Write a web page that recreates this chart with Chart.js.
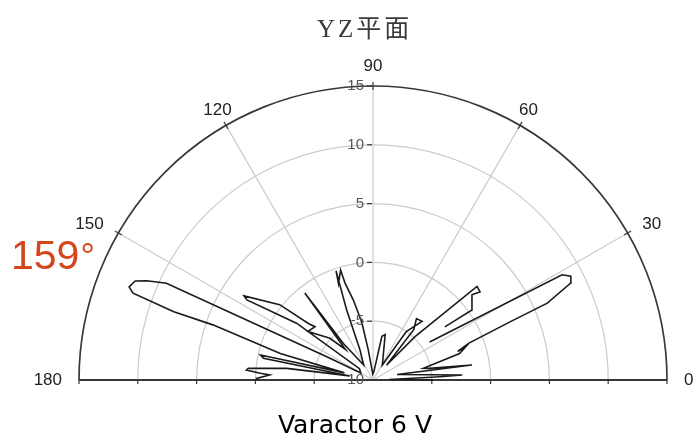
<!DOCTYPE html>
<html>
<head>
<meta charset="utf-8">
<script src="https://cdn.jsdelivr.net/npm/chart.js@4/dist/chart.umd.min.js"></script>
<style>
  html, body { margin: 0; padding: 0; background: #fff; }
  #wrap { position: relative; width: 696px; height: 441px; }
  #title {
    position: absolute; left: 317px; top: 8px;
    font: 25px "Liberation Serif", "Noto Sans CJK SC", serif;
    letter-spacing: 3px; color: #3a3a3a; white-space: nowrap;
  }
  #mark {
    position: absolute; left: 11px; top: 232px;
    font: 41px "Liberation Sans", Arial, sans-serif;
    color: #d4461c; white-space: nowrap;
  }
  #mark span { font-size: 36px; font-weight: 300; margin-left: 1px; }
  #caption {
    position: absolute; left: 0; width: 696px; top: 410px; text-align: center;
    padding-left: 14px; box-sizing: border-box;
    font: 25px "DejaVu Sans", sans-serif; color: #000;
  }
</style>
</head>
<body>
<div id="wrap">
  <canvas id="chart"></canvas>
  <div id="title">YZ平面</div>
  <div id="mark">159<span>°</span></div>
  <div id="caption">Varactor 6 V</div>
</div>
<script>
// Radiation pattern, YZ plane (gain in dB against angle in degrees)
const RMIN = -10;
const RMAX = 15;
const radialTicks = [-10, -5, 0, 5, 10, 15];
const angleTicks = [0, 30, 60, 90, 120, 150, 180];

// measured trace, in the order it is drawn (null = break in the trace)
const patternAngle = [
  0, 1.5, 2.8, 3.2, 13, 8.6, 11.6, 13.1, 17.0, 19.8, 18.6, 21.0, 23.0, 23.8,
  26.1, 27.7, 29.1, 33.9, 35, 36.5, 35.3, 40.7, 39.5, 42.0, 45.9, 47.5, 51.0,
  54.7, 50.1, 55.5, 58, 75, 78.5, 84, 92, 98.9, 101, 103.8, 106.1, 106.4, 109.7,
  108.7, 110.6, 113.4, 122, 129.0, 128.1, 132, 135.9, 143.3, 137.4, 138.8, 141.1,
  146.9, 147.6, 143.4, 140, 150, 153.3, 154.9, 156.3, 157.4, 159.1, 160.1,
  161.1, 161.0, 164, 166, 167.5, 168.8, 170, 172.3, 174.6, 175.5, 176.6, 177.2,
  179.2, 180
];
const patternGain = [
  -4.9, -8.6, -4.3, -2.4, -7.9, -1.5, -5.1, -5.6, -2.3, -1.6, -2.4, -1.3, 2.7, 6.2,
  8.7, 9.0, 8.4, -4.2, null, -2.4, 0.3, 1.1, 1.8, 1.9, -4.9, -8.3, -4.5,
  -3.6, -3.5, -5.0, -8.5, -6.0, -6.2, -9.3, -9.5, -7.4, -5.0, -3.0, -1.4, -0.25, -1.3,
  -0.2, -3.6, -7.2, -8.5, -6.0, -0.6, -6.5, -4.9, -3.1, -3.3, -2.7, 0.2,
  3.1, 2.7, -1.9, -8.5, -8.8, -5.6, 9.4, 11.0, 11.9, 12.2, 11.7,
  7.9, 4.4, -1.8, -7.5, -0.2, -0.5, -8.0, -2.6, 0.65, 0.8, -0.4, -1.2,
  -0.1, -0.1
];

const span = RMAX - RMIN;

function toXY(angle, gain) {
  if (gain === null) return { x: null, y: null };
  const r = Math.max(gain - RMIN, 0);
  const th = angle * Math.PI / 180;
  return { x: r * Math.cos(th), y: r * Math.sin(th) };
}

const tracePoints = patternAngle.map((a, i) => toXY(a, patternGain[i]));

const polarGrid = {
  id: "polarGrid",
  beforeDatasetsDraw(chart) {
    const { ctx } = chart;
    const xs = chart.scales.x, ys = chart.scales.y;
    const cx = xs.getPixelForValue(0), cy = ys.getPixelForValue(0);
    const rad = (v) => xs.getPixelForValue(v - RMIN) - cx;
    const R = rad(RMAX);
    ctx.save();

    // inner rings and spokes
    ctx.strokeStyle = "#cbcbcb";
    ctx.lineWidth = 1.2;
    radialTicks.forEach((t) => {
      if (t <= RMIN || t >= RMAX) return;
      ctx.beginPath();
      ctx.arc(cx, cy, rad(t), Math.PI, 2 * Math.PI);
      ctx.stroke();
    });
    angleTicks.forEach((a) => {
      if (a === 0 || a === 180) return;
      const th = a * Math.PI / 180;
      ctx.beginPath();
      ctx.moveTo(cx, cy);
      ctx.lineTo(cx + R * Math.cos(th), cy - R * Math.sin(th));
      ctx.stroke();
    });

    // outer arc and base line
    ctx.strokeStyle = "#383838";
    ctx.lineWidth = 1.7;
    ctx.beginPath();
    ctx.arc(cx, cy, R, Math.PI, 2 * Math.PI);
    ctx.stroke();
    ctx.lineWidth = 2;
    ctx.beginPath();
    ctx.moveTo(cx - R, cy);
    ctx.lineTo(cx + R, cy);
    ctx.stroke();

    // tick marks
    ctx.lineWidth = 1.2;
    angleTicks.forEach((a) => {
      if (a === 0 || a === 180) return;
      const th = a * Math.PI / 180;
      const c = Math.cos(th), s = Math.sin(th);
      ctx.beginPath();
      ctx.moveTo(cx + (R - 4) * c, cy - (R - 4) * s);
      ctx.lineTo(cx + (R + 4) * c, cy - (R + 4) * s);
      ctx.stroke();
    });
    radialTicks.forEach((t) => {
      if (t <= RMIN) return;
      [-1, 1].forEach((side) => {
        ctx.beginPath();
        ctx.moveTo(cx + side * rad(t), cy);
        ctx.lineTo(cx + side * rad(t), cy + 4);
        ctx.stroke();
      });
      ctx.beginPath();
      ctx.moveTo(cx - 6, cy - rad(t));
      ctx.lineTo(cx - 1, cy - rad(t));
      ctx.stroke();
    });
    ctx.restore();
  },
  afterDatasetsDraw(chart) {
    const { ctx } = chart;
    const xs = chart.scales.x, ys = chart.scales.y;
    const cx = xs.getPixelForValue(0), cy = ys.getPixelForValue(0);
    const rad = (v) => xs.getPixelForValue(v - RMIN) - cx;
    const R = rad(RMAX);
    ctx.save();

    // gain labels up the 90 degree spoke
    ctx.font = '15px "Liberation Sans", Arial, sans-serif';
    ctx.fillStyle = "#555";
    ctx.textAlign = "right";
    ctx.textBaseline = "middle";
    radialTicks.forEach((t) => {
      ctx.fillText(String(t), cx - 9, cy - rad(t));
    });

    // angle labels round the outside
    ctx.font = '17px "Liberation Sans", Arial, sans-serif';
    ctx.fillStyle = "#222";
    angleTicks.forEach((a) => {
      const th = a * Math.PI / 180;
      const c = Math.cos(th), s = Math.sin(th);
      const px = cx + (R + 17) * c, py = cy - (R + 17) * s;
      ctx.textAlign = c > 0.8 ? "left" : c < -0.8 ? "right" : "center";
      ctx.textBaseline = "middle";
      ctx.fillText(String(a), px, a === 90 ? py - 3 : py);
    });
    ctx.restore();
  }
};

new Chart(document.getElementById("chart"), {
  type: "scatter",
  data: {
    datasets: [
      {
        data: tracePoints,
        showLine: true,
        spanGaps: false,
        borderColor: "#1a1a1a",
        borderWidth: 1.6,
        pointRadius: 0,
        tension: 0,
        clip: false,
      },
    ],
  },
  options: {
    responsive: true,
    maintainAspectRatio: false,
    animation: false,
    layout: { padding: { left: 79, right: 29, top: 86, bottom: 61 } },
    scales: {
      x: { type: "linear", min: -span, max: span, display: false },
      y: { type: "linear", min: 0, max: span, display: false },
    },
    plugins: {
      legend: { display: false },
      tooltip: { enabled: false },
    },
  },
  plugins: [polarGrid],
});
</script>
</body>
</html>
